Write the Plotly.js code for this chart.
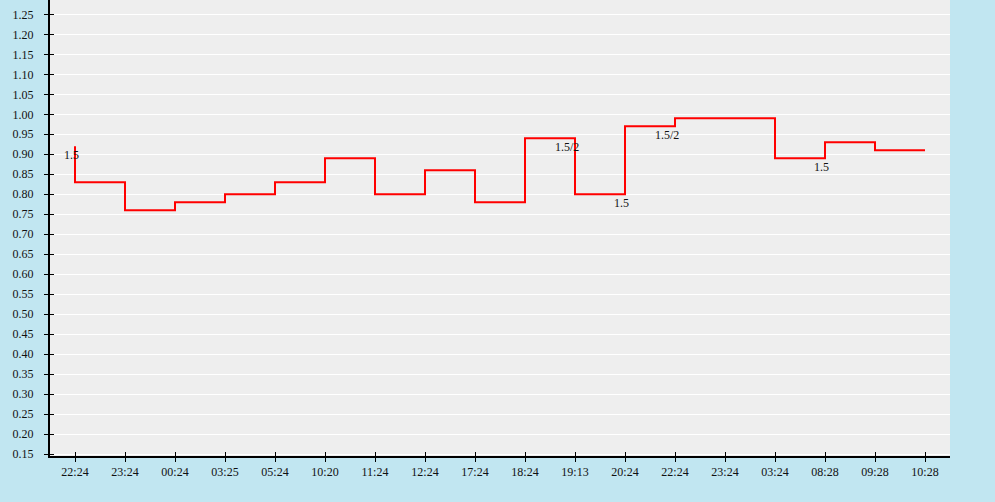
<!DOCTYPE html>
<html>
<head>
<meta charset="utf-8">
<script src="https://cdn.plot.ly/plotly-3.0.1.min.js"></script>
<style>
html,body{margin:0;padding:0;background:#c1e6f1;}
#chart{width:995px;height:502px;}
</style>
</head>
<body>
<div id="chart"></div>
<script>
const categories = ["22:24","23:24","00:24","03:25","05:24","10:20","11:24","12:24","17:24","18:24","19:13","20:24","22:24","23:24","03:24","08:28","09:28","10:28"];
const values = [0.92,0.83,0.76,0.78,0.80,0.83,0.89,0.80,0.86,0.78,0.94,0.80,0.97,0.99,0.99,0.89,0.93,0.91];
const labelIndex = [0,10,11,12,15];
const labelText = ["1.5","1.5/2","1.5","1.5/2","1.5"];

const xIdx = categories.map((c,i)=>i);
const font = {family:"Liberation Serif, Times New Roman, serif", size:12, color:"#111"};

const trace = {
  x: xIdx, y: values, type:"scatter", mode:"lines",
  line:{shape:"vh", color:"#ff0000", width:2},
  hoverinfo:"skip", showlegend:false
};

const annotations = labelIndex.map((idx,k)=>({
  x: idx, y: values[idx], xref:"x", yref:"y",
  text: labelText[k], showarrow:false,
  xanchor:"right", yanchor:"top", xshift:6, yshift:0,
  font: font
}));

const yr = [0.145, 1.286];
const xr = [-0.5, 17.5];
const layout = {
  width:995, height:502,
  margin:{l:50, r:45, t:0, b:46},
  paper_bgcolor:"#c1e6f1",
  plot_bgcolor:"#eeeeee",
  font: font,
  showlegend:false,
  xaxis:{
    range: xr, tickvals: xIdx, ticktext: categories,
    showgrid:false, zeroline:false,
    showline:true, linecolor:"#000", linewidth:2,
    ticks:"outside", ticklen:4, tickcolor:"#000", tickwidth:1,
    tickfont: font, fixedrange:true
  },
  yaxis:{
    range: yr, tick0:0.15, dtick:0.05, tickformat:".2f",
    showgrid:true, gridcolor:"#ffffff", gridwidth:1,
    zeroline:false,
    showline:true, linecolor:"#000", linewidth:2,
    ticks:"outside", ticklen:4, tickcolor:"#000", tickwidth:1,
    ticklabelstandoff:8,
    tickfont: font, fixedrange:true
  },
  xaxis2:{
    overlaying:"x", anchor:"y", side:"bottom", range: xr, tickvals: xIdx,
    showticklabels:false, showgrid:false, zeroline:false, showline:false,
    ticks:"inside", ticklen:4, tickcolor:"#000", tickwidth:1, fixedrange:true
  },
  yaxis2:{
    overlaying:"y", anchor:"x", side:"left", range: yr, tick0:0.15, dtick:0.05,
    showticklabels:false, showgrid:false, zeroline:false, showline:false,
    ticks:"inside", ticklen:4, tickcolor:"#000", tickwidth:1, fixedrange:true
  },
  annotations: annotations
};

const ghost = {x:[xr[0]], y:[yr[0]], xaxis:"x2", yaxis:"y2", type:"scatter", mode:"markers",
  marker:{opacity:0}, hoverinfo:"skip", showlegend:false};

Plotly.newPlot("chart", [trace, ghost], layout, {displayModeBar:false, staticPlot:true});
</script>
</body>
</html>
